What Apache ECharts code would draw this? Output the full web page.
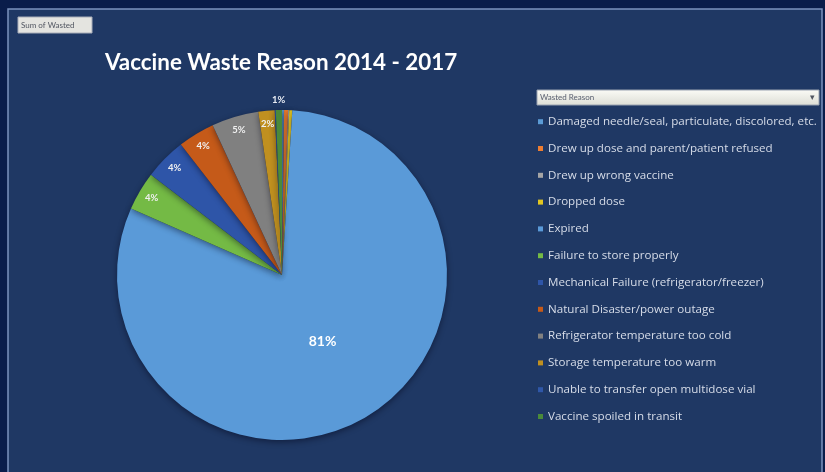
<!DOCTYPE html>
<html><head><meta charset="utf-8">
<script src="https://cdn.jsdelivr.net/npm/echarts@6/dist/echarts.min.js"></script>
<style>html,body{margin:0;padding:0;background:#0A1D4B;}#c{width:825px;height:472px;}</style>
</head><body><div id="c"></div>
<script>
// ---- data ----
const reasons = [
  'Damaged needle/seal, particulate, discolored, etc.',
  'Drew up dose and parent/patient refused',
  'Drew up wrong vaccine',
  'Dropped dose',
  'Expired',
  'Failure to store properly',
  'Mechanical Failure (refrigerator/freezer)',
  'Natural Disaster/power outage',
  'Refrigerator temperature too cold',
  'Storage temperature too warm',
  'Unable to transfer open multidose vial',
  'Vaccine spoiled in transit'
];
const wasted = [2, 4, 1, 3, 806, 38, 41, 36, 46, 16, 1, 6];
const titleText = 'Vaccine Waste Reason 2014 - 2017';
const fieldButton = 'Sum of Wasted';
const legendHeader = 'Wasted Reason';

// ---- styles ----
const palette = ['#5B9BD5','#ED7D31','#A5A5A5','#E2C621','#5A9AD8','#74BA45',
                 '#2E55A8','#C55A19','#808080','#C09020','#2F57A8','#4A8A3A'];
const FONT = 'Lato, "Open Sans", sans-serif';
const LFONT = '"Open Sans", Lato, sans-serif';
const CX = 282, CY = 275, R = 165;

const total = wasted.reduce((a, b) => a + b, 0);
const pct = v => Math.round(v / total * 100);
const data = reasons.map((n, i) => ({ name: n, value: wasted[i] }));

function labelRing(r0, r1, test, style) {
  return {
    type: 'pie', radius: [r0, r1], center: [CX, CY], startAngle: 90,
    silent: true, legendHoverLink: false, avoidLabelOverlap: false,
    itemStyle: { color: 'rgba(0,0,0,0)', borderWidth: 0 },
    label: Object.assign({ show: true, position: 'inside', fontFamily: FONT,
      formatter: p => test(p.value / total) ? pct(p.value) + '%' : '' }, style),
    labelLine: { show: false },
    emphasis: { disabled: true },
    data: data.map(d => ({ name: d.name, value: d.value }))
  };
}

const chart = echarts.init(document.getElementById('c'), null, { renderer: 'canvas' });
chart.setOption({
  backgroundColor: '#0A1D4B',
  animation: false,
  color: palette,
  title: {
    text: titleText, left: 105, top: 49, padding: 0,
    textStyle: { color: '#FFFFFF', fontFamily: FONT, fontWeight: 'bold', fontSize: 22.4, lineHeight: 28 }
  },
  legend: {
    orient: 'vertical', left: 538, top: 115.7, padding: 0,
    icon: 'rect', itemWidth: 5, itemHeight: 5, itemGap: 14.8,
    textStyle: { color: '#D6DCE8', fontFamily: LFONT, fontSize: 11.6, lineHeight: 12 },
    data: reasons
  },
  graphic: [
    { type: 'rect', z: -10, shape: { x: 8, y: 9, width: 814, height: 470 },
      style: { fill: '#1F3864', stroke: '#7C92BF', lineWidth: 1.5 } },
    { type: 'rect', z: 10, shape: { x: 18, y: 17, width: 74, height: 16 },
      style: { fill: '#E4E4E0', stroke: '#A8ADB8', lineWidth: 1 } },
    { type: 'text', z: 11, style: { x: 21, y: 25, text: fieldButton, fill: '#505560',
      font: '8px ' + FONT, textVerticalAlign: 'middle' } },
    { type: 'rect', z: 10, shape: { x: 537, y: 90, width: 282, height: 15 },
      style: { fill: new echarts.graphic.LinearGradient(0, 0, 0, 1,
        [{ offset: 0, color: '#FBFBF6' }, { offset: 1, color: '#DCDDD5' }]),
        stroke: '#9AA2B0', lineWidth: 1 } },
    { type: 'text', z: 11, style: { x: 540, y: 97.5, text: legendHeader, fill: '#5A6070',
      font: '8px ' + FONT, textVerticalAlign: 'middle' } },
    { type: 'text', z: 11, style: { x: 812, y: 97.5, text: '\u25BE', fill: '#505560',
      font: '9px ' + FONT, textAlign: 'center', textVerticalAlign: 'middle' } }
  ],
  series: [
    {
      type: 'pie', radius: R, center: [CX, CY], startAngle: 90,
      avoidLabelOverlap: false,
      itemStyle: { borderWidth: 0, shadowBlur: 6, shadowColor: 'rgba(0,0,20,0.45)', shadowOffsetY: 2 },
      label: { show: false }, labelLine: { show: false },
      emphasis: { disabled: true },
      data: data
    },
    labelRing(0, 150, f => f > 0.5, { color: '#FFFFFF', fontSize: 14, fontWeight: 'bold' }),
    labelRing(132, 165, f => f >= 0.015 && f <= 0.5, { color: '#F0F0F0', fontSize: 9.5, fontWeight: 'bold' }),
    labelRing(165, 180, f => f >= 0.005 && f < 0.015, { color: '#E8ECF4', fontSize: 9.5, fontWeight: 'bold' })
  ]
});
</script>
</body></html>
